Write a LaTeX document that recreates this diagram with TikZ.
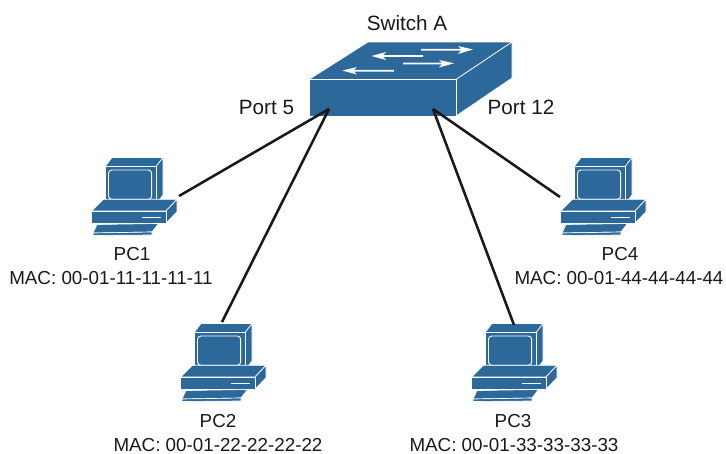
\documentclass[tikz,border=0pt]{standalone}
\usepackage{fontspec}
\setmainfont{Liberation Sans}
\definecolor{netblue}{HTML}{2C6899}
\tikzset{
  x=0.75pt,y=-0.75pt,
  face/.style={fill=netblue,draw=white,line width=0.5pt,line join=round},
  whiteline/.style={draw=white,line width=0.7pt},
  label/.style={font=\fontsize{14.1pt}{15pt}\selectfont,inner sep=0pt,text=black!90},
  biglabel/.style={font=\fontsize{15.5pt}{17pt}\selectfont,inner sep=0pt,text=black!90},
  link/.style={draw=black!90,line width=1.9pt},
  swarrow/.style={fill=white,draw=none},
  pcicon/.pic={
    \begin{scope}[shift={(80,145)}]
      % monitor
      \path[face] (25,21.7) -- (32,12.5) -- (83,12.5) -- (76,21.7) -- cycle;
      \path[face] (76,21.7) -- (83,12.5) -- (83,50) -- (76,59.3) -- cycle;
      \path[face] (25,21.7) rectangle (76,59.3);
      \draw[whiteline,rounded corners=2.5pt] (28.5,25) rectangle (71.7,54.3);
      % base
      \path[face] (11.7,66) -- (23.3,54.3) -- (97,54.3) -- (86,66) -- cycle;
      \path[face] (86,66) -- (97,54.3) -- (97,66.7) -- (86,78.3) -- cycle;
      \path[face] (11.7,66) rectangle (86,78.3);
      \draw[white,line width=1pt] (62.3,72.7) -- (81,72.7);
      % keyboard
      \path[face] (17,79.5) -- (78.5,78.5) -- (72,87) -- (13,88) -- cycle;
      \path[face] (13,88) -- (72,87) -- (72,90) -- (13,90.5) -- cycle;
    \end{scope}
  }
}
\begin{document}
\begin{tikzpicture}
\useasboundingbox (0,0) rectangle (726,454);
% switch
\path[face] (309,79.5) -- (368,42) -- (512,42) -- (456,79.5) -- cycle;
\path[face] (456,79.5) -- (512,42) -- (512,78) -- (456,116) -- cycle;
\path[face] (309.5,79.5) rectangle (456,116);
\path[swarrow] (421,48.8) -- (421,50.6) -- (461,50.6) -- (458,54) -- (473,49.5) -- (458,46) -- (461,48.8) -- cycle;
\path[swarrow] (423,55) -- (423,56.8) -- (383,56.8) -- (386,60) -- (371.5,56) -- (386,52) -- (383,55) -- cycle;
\path[swarrow] (403,62.5) -- (403,64.3) -- (442,64.3) -- (439,67.5) -- (454,63.3) -- (439,60) -- (442,62.5) -- cycle;
\path[swarrow] (394,69.8) -- (394,71.6) -- (354,71.6) -- (357,74.5) -- (342.5,70.6) -- (357,67) -- (354,69.8) -- cycle;
% PCs
\pic (icon1) at (0,0) {pcicon};
\pic (icon2) at (89,166) {pcicon};
\pic (icon3) at (380,166) {pcicon};
\pic (icon4) at (469,0) {pcicon};
% named points
\coordinate (swL) at (329,109);
\coordinate (swR) at (433,109);
\coordinate (pc1) at (179,196);
\coordinate (pc2) at (222,322);
\coordinate (pc3) at (514,325);
\coordinate (pc4) at (560,197);
\draw[link] (pc1) -- (swL);
\draw[link] (pc2) -- (swL);
\draw[link] (pc3) -- (swR);
\draw[link] (pc4) -- (swR);
% labels
\node[biglabel] (lsw) at (407,23) {Switch A};
\node[biglabel] (lp5) at (266.5,107) {Port 5};
\node[biglabel] (lp12) at (521,107) {Port 12};
\node[label] (l1) at (132,254) {PC1};
\node[label] (m1) at (111,278) {MAC: 00-01-11-11-11-11};
\node[label] (l2) at (218,421) {PC2};
\node[label] (m2) at (218,445) {MAC: 00-01-22-22-22-22};
\node[label] (l3) at (513,421) {PC3};
\node[label] (m3) at (514,445) {MAC: 00-01-33-33-33-33};
\node[label] (l4) at (620,254) {PC4};
\node[label] (m4) at (619,278) {MAC: 00-01-44-44-44-44};
\end{tikzpicture}
\end{document}
